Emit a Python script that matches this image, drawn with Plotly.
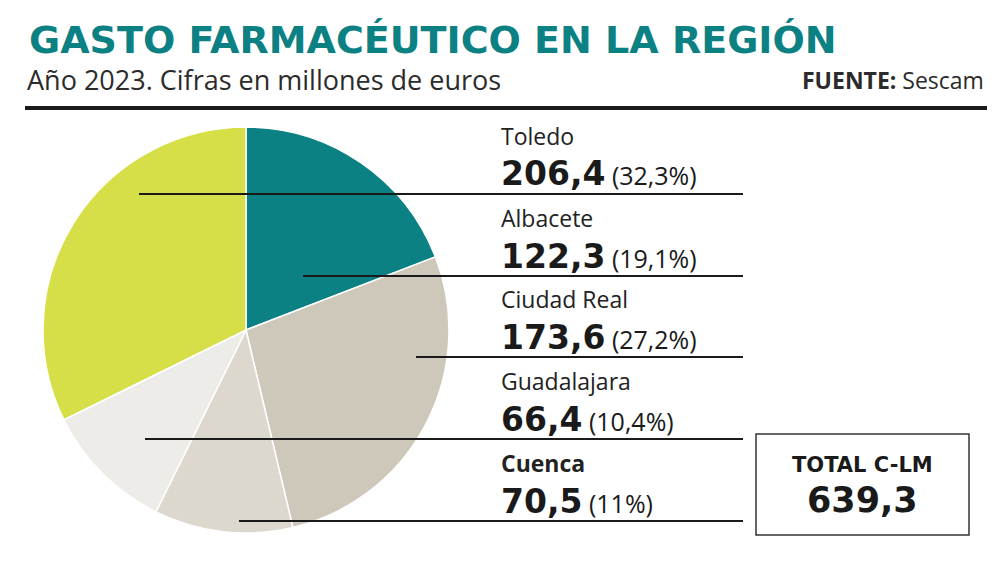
import plotly.graph_objects as go

# ---- data ----
provincias = ["Albacete", "Ciudad Real", "Cuenca", "Guadalajara", "Toledo"]
gasto = [122.3, 173.6, 70.5, 66.4, 206.4]
porcentajes = ["19,1%", "27,2%", "11%", "10,4%", "32,3%"]
colores = ["#0b8184", "#cec8ba", "#dcd8ce", "#eeece8", "#d7df48"]
orden_etiquetas = ["Toledo", "Albacete", "Ciudad Real", "Guadalajara", "Cuenca"]
total = 639.3

titulo = "GASTO FARMACÉUTICO EN LA REGIÓN"
subtitulo = "Año 2023. Cifras en millones de euros"
fuente = "<b>FUENTE:</b> Sescam"
total_titulo = "TOTAL C-LM"

# ---- layout helpers ----
W, H = 1000, 566
def py(y):
    return 1 - y / H
def px(x):
    return x / W

def fmt(v):
    return f"{v:.1f}".replace(".", ",")

TEXT_FONT = "Open Sans"
HEAVY_FONT = "DejaVu Sans"
TITLE_TEAL = "#0b8184"

fig = go.Figure()
fig.add_trace(go.Pie(
    labels=provincias,
    values=gasto,
    sort=False,
    direction="clockwise",
    rotation=0,
    marker=dict(colors=colores, line=dict(color="white", width=1.5)),
    textinfo="none",
    hoverinfo="label+value+percent",
    domain=dict(x=[px(43), px(449)], y=[py(533), py(127)]),
    showlegend=False,
))

shapes = []
annotations = []

# title / subtitle / source
annotations.append(dict(x=px(27), y=py(40), xref="paper", yref="paper", xanchor="left", yanchor="middle",
                        text=f"<b>{titulo}</b>", showarrow=False,
                        font=dict(family=HEAVY_FONT, size=38, color=TITLE_TEAL)))
annotations.append(dict(x=px(25), y=py(79), xref="paper", yref="paper", xanchor="left", yanchor="middle",
                        text=subtitulo, showarrow=False,
                        font=dict(family=TEXT_FONT, size=27, color="#2b2b2b")))
annotations.append(dict(x=px(986), y=py(80), xref="paper", yref="paper", xanchor="right", yanchor="middle",
                        text=fuente, showarrow=False,
                        font=dict(family=TEXT_FONT, size=23, color="#2b2b2b")))
shapes.append(dict(type="line", xref="paper", yref="paper", x0=px(25), x1=px(987), y0=py(108), y1=py(108),
                   line=dict(color="#1a1a1a", width=4)))

# leader lines + labels
linea_y = [194, 276, 357, 439, 521]
linea_x0 = [139, 303, 416, 145, 239]
for nombre, ly, lx in zip(orden_etiquetas, linea_y, linea_x0):
    i = provincias.index(nombre)
    shapes.append(dict(type="line", xref="paper", yref="paper", x0=px(lx), x1=px(743), y0=py(ly), y1=py(ly),
                       line=dict(color="#1a1a1a", width=1.8)))
    nombre_txt = f"<b>{nombre}</b>" if nombre == "Cuenca" else nombre
    annotations.append(dict(x=px(499), y=py(ly - 58), xref="paper", yref="paper", xanchor="left", yanchor="middle",
                            text=nombre_txt, showarrow=False,
                            font=dict(family=TEXT_FONT, size=23, color="#222222")))
    annotations.append(dict(x=px(499), y=py(ly - 20), xref="paper", yref="paper", xanchor="left", yanchor="middle",
                            text=(f"<span style='font-family:DejaVu Sans'><b>{fmt(gasto[i])}</b></span>"
                                  f"<span style='font-size:25px'> ({porcentajes[i]})</span>"),
                            showarrow=False,
                            font=dict(family=TEXT_FONT, size=33, color="#1a1a1a")))

# total box
shapes.append(dict(type="rect", xref="paper", yref="paper", x0=px(756), x1=px(969), y0=py(535), y1=py(434),
                   line=dict(color="#333333", width=1.5), fillcolor="rgba(0,0,0,0)"))
annotations.append(dict(x=px(862), y=py(478), xref="paper", yref="paper", xanchor="center", yanchor="bottom",
                        text=f"<b>{total_titulo}</b>", showarrow=False, borderpad=0,
                        font=dict(family=HEAVY_FONT, size=21, color="#1a1a1a")))
annotations.append(dict(x=px(862), y=py(479), xref="paper", yref="paper", xanchor="center", yanchor="top",
                        text=f"<b>{fmt(total)}</b>", showarrow=False, borderpad=0,
                        font=dict(family=HEAVY_FONT, size=35, color="#1a1a1a")))

fig.update_layout(
    width=W, height=H,
    margin=dict(l=0, r=0, t=0, b=0),
    paper_bgcolor="white", plot_bgcolor="white",
    shapes=shapes, annotations=annotations,
)

fig.write_html("out.html", config={"displayModeBar": False},
               post_script="document.body.style.margin='0';")
